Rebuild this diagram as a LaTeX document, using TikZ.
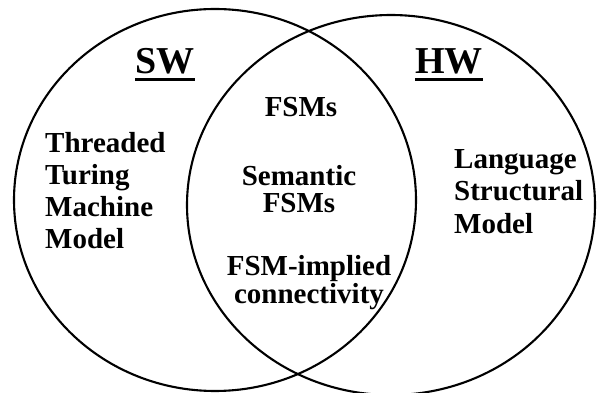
\documentclass[tikz,border=0pt]{standalone}
\usepackage{fontspec}
\setmainfont{Liberation Serif}
\begin{document}
\begin{tikzpicture}[x=1pt, y=-1pt,
  setline/.style={line width=2.1pt, black},
  heading/.style={inner sep=0pt, font=\fontsize{38}{40}\selectfont\bfseries},
  labeltext/.style={inner sep=0pt, font=\fontsize{29}{32}\selectfont\bfseries},
  rule/.style={line width=2.4pt}]
  \useasboundingbox (0,0) rectangle (598,393);

  % the two overlapping sets
  \draw[setline] (215,200) ellipse [x radius=201pt, y radius=191pt];
  \draw[setline] (391,205) ellipse [x radius=204pt, y radius=190pt];

  % set headings, underlined
  \node[heading, anchor=base west] (sw) at (135,74) {SW};
  \node[heading, anchor=base west] (hw) at (415,74) {HW};
  \draw[rule] ([yshift=-5.5pt]sw.base west) -- ([yshift=-5.5pt]sw.base east);
  \draw[rule] ([yshift=-5.5pt]hw.base west) -- ([yshift=-5.5pt]hw.base east);

  % software-only region
  \node[labeltext, anchor=north west, align=left] (tm) at (45,132)
    {Threaded\\Turing\\Machine\\Model};

  % shared region
  \node[labeltext, anchor=base] (fsm) at (301,117) {FSMs};
  \node[labeltext, anchor=north, align=center,
        font=\fontsize{29}{27}\selectfont\bfseries] (sem) at (299,165)
    {Semantic\\FSMs};
  \node[labeltext, anchor=north, align=center,
        font=\fontsize{29}{28}\selectfont\bfseries] (conn) at (309,255)
    {FSM-implied\\connectivity};

  % hardware-only region
  \node[labeltext, anchor=north west, align=left,
        font=\fontsize{29}{32.5}\selectfont\bfseries] (lsm) at (454,149)
    {Language\\Structural\\Model};
\end{tikzpicture}
\end{document}
